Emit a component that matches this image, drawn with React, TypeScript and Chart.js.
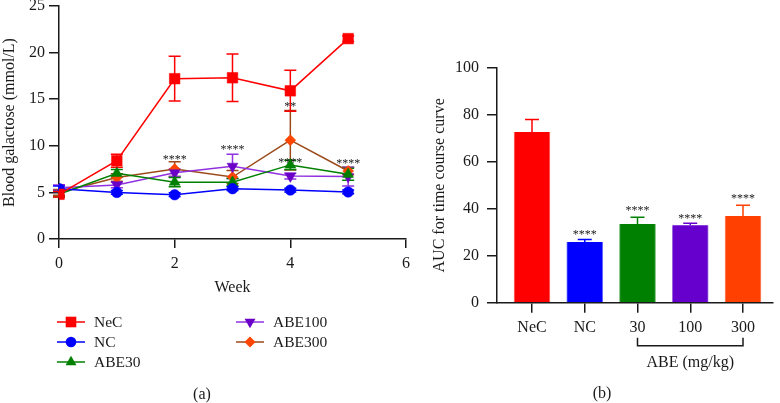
import React, { useEffect, useRef } from 'react';
import { Chart, registerables } from 'chart.js';

Chart.register(...registerables);

const FONT = '"Liberation Serif", "DejaVu Serif", "Times New Roman", serif';
const INK = '#1a1a1a';

// ---------- Panel (a): blood galactose over weeks ----------
const weeks = [0, 1, 2, 3, 4, 5];
const xTickValues = [0, 2, 4, 6];

const necMean = [4.8, 8.4, 17.2, 17.3, 15.9, 21.5];
const necSd = [0.3, 0.7, 2.4, 2.55, 2.2, 0.3];
const ncMean = [5.4, 5.0, 4.75, 5.4, 5.25, 5.05];
const ncSd = [0.3, 0.2, 0.2, 0.2, 0.2, 0.2];
const abe30Mean = [4.8, 7.05, 6.1, 6.1, 7.95, 6.95];
const abe30Sd = [0.3, 0.4, 0.5, 0.4, 0.5, 0.65];
const abe100Mean = [5.5, 5.8, 7.1, 7.8, 6.75, 6.7];
const abe100Sd = [0.3, 0.3, 0.4, 1.3, 0.3, 1.0];
const abe300Mean = [5.0, 6.6, 7.5, 6.65, 10.6, 7.3];
const abe300Sd = [0.3, 0.4, 0.8, 0.7, 3.2, 0.4];

const sigWeeks = [2, 3, 4, 4, 5];
const sigText = ['****', '****', '**', '****', '****'];
const sigLevel = [8.8, 9.8, 14.4, 8.4, 8.3];

// ---------- Panel (b): AUC ----------
const aucCategories = ['NeC', 'NC', '30', '100', '300'];
const aucMean = [72.7, 25.9, 33.5, 33.0, 36.9];
const aucErr = [5.4, 1.0, 2.9, 0.8, 4.6];
const aucSig = ['', '****', '****', '****', '****'];
const aucSigLevel = [0, 30.1, 40.2, 37.0, 45.5];

type Series = {
  name: string;
  mean: number[];
  sd: number[];
  line: string;
  fill: string;
  shape: string;
  radius: number;
  rotation: number;
};

const series: Series[] = [
  { name: 'NeC', mean: necMean, sd: necSd, line: '#ff0000', fill: '#ff0000', shape: 'rect', radius: 7.5, rotation: 0 },
  { name: 'NC', mean: ncMean, sd: ncSd, line: '#0000ff', fill: '#0000ff', shape: 'circle', radius: 5.3, rotation: 0 },
  { name: 'ABE30', mean: abe30Mean, sd: abe30Sd, line: '#008000', fill: '#008000', shape: 'triangle', radius: 6.3, rotation: 0 },
  { name: 'ABE100', mean: abe100Mean, sd: abe100Sd, line: '#9030e0', fill: '#6a00c8', shape: 'triangle', radius: 6.3, rotation: 180 },
  { name: 'ABE300', mean: abe300Mean, sd: abe300Sd, line: '#9c4a1a', fill: '#ff4500', shape: 'rectRot', radius: 5.5, rotation: 0 },
];

const barFill = ['#ff0000', '#0000ff', '#008000', '#6600cc', '#ff4000'];
const barEdge = ['#ff8080', '#7070ff', '#60b060', '#a070e0', '#ff9070'];

function markerPath(ctx: CanvasRenderingContext2D, shape: string, x: number, y: number, r: number, rot: number) {
  ctx.beginPath();
  if (shape === 'rect') {
    const s = r * Math.SQRT1_2;
    ctx.rect(x - s, y - s, 2 * s, 2 * s);
  } else if (shape === 'circle') {
    ctx.arc(x, y, r, 0, Math.PI * 2);
  } else if (shape === 'triangle') {
    let a = (rot * Math.PI) / 180;
    ctx.moveTo(x + Math.sin(a) * r, y - Math.cos(a) * r);
    a += (2 * Math.PI) / 3;
    ctx.lineTo(x + Math.sin(a) * r, y - Math.cos(a) * r);
    a += (2 * Math.PI) / 3;
    ctx.lineTo(x + Math.sin(a) * r, y - Math.cos(a) * r);
    ctx.closePath();
  } else {
    ctx.moveTo(x - r, y);
    ctx.lineTo(x, y - r);
    ctx.lineTo(x + r, y);
    ctx.lineTo(x, y + r);
    ctx.closePath();
  }
}

function LineChart() {
  const ref = useRef<HTMLCanvasElement | null>(null);
  useEffect(() => {
    if (!ref.current) return;
    const OFF = 20; // canvas is shifted up by 20px

    const errPlugin = {
      id: 'errLeft',
      beforeDatasetsDraw(chart: any) {
        const { ctx, scales } = chart;
        const x = scales.x;
        const y = scales.y;
        ctx.save();
        ctx.lineWidth = 1.5;
        for (let d = chart.data.datasets.length - 1; d >= 0; d--) {
          const ds: any = chart.data.datasets[d];
          ctx.strokeStyle = ds.borderColor;
          ds.data.forEach((p: any, i: number) => {
            const sd = ds.sd[i];
            const px = x.getPixelForValue(p.x);
            const top = y.getPixelForValue(p.y + sd);
            const bot = y.getPixelForValue(p.y - sd);
            ctx.beginPath();
            ctx.moveTo(px, top);
            ctx.lineTo(px, bot);
            ctx.moveTo(px - 6, top);
            ctx.lineTo(px + 6, top);
            ctx.moveTo(px - 6, bot);
            ctx.lineTo(px + 6, bot);
            ctx.stroke();
          });
        }
        ctx.restore();
      },
      afterDatasetsDraw(chart: any) {
        const { ctx, scales } = chart;
        ctx.save();
        ctx.fillStyle = INK;
        ctx.font = `12px ${FONT}`;
        ctx.textAlign = 'center';
        ctx.textBaseline = 'middle';
        sigWeeks.forEach((w, i) => {
          ctx.fillText(sigText[i], scales.x.getPixelForValue(w), scales.y.getPixelForValue(sigLevel[i]) + 2.5);
        });
        ctx.restore();
      },
      afterDraw(chart: any) {
        const { ctx } = chart;
        ctx.save();
        ctx.font = `15.5px ${FONT}`;
        ctx.textBaseline = 'middle';
        ctx.textAlign = 'left';
        chart.data.datasets.forEach((ds: any, i: number) => {
          const col = i < 3 ? 0 : 1;
          const row = i < 3 ? i : i - 3;
          const x0 = 57 + col * 179;
          const yy = 322 + row * 20 + OFF;
          ctx.strokeStyle = ds.borderColor;
          ctx.lineWidth = 1.5;
          ctx.beginPath();
          ctx.moveTo(x0, yy);
          ctx.lineTo(x0 + 28, yy);
          ctx.stroke();
          ctx.fillStyle = ds.pointBackgroundColor;
          markerPath(ctx, ds.pointStyle, x0 + 14, yy, ds.pointRadius, ds.pointRotation);
          ctx.fill();
          ctx.fillStyle = INK;
          ctx.fillText(ds.label, x0 + 37, yy + 1);
        });
        ctx.font = `16px ${FONT}`;
        ctx.textAlign = 'center';
        ctx.fillText('(a)', 202, 395 + OFF);
        ctx.restore();
      },
    };

    const chart = new Chart(ref.current, {
      type: 'line',
      data: {
        datasets: series.map((s) => ({
          label: s.name,
          data: weeks.map((w, i) => ({ x: w, y: s.mean[i] })),
          borderColor: s.line,
          backgroundColor: s.fill,
          pointBackgroundColor: s.fill,
          pointBorderColor: s.fill,
          pointBorderWidth: 0.5,
          pointStyle: s.shape,
          pointRadius: s.radius,
          pointRotation: s.rotation,
          borderWidth: 1.5,
          tension: 0,
          sd: s.sd,
        })) as any,
      },
      options: {
        animation: false,
        responsive: false,
        devicePixelRatio: 1,
        layout: { padding: { left: 0, top: 26, right: 14, bottom: 103 } },
        plugins: { legend: { display: false }, tooltip: { enabled: false } },
        scales: {
          x: {
            type: 'linear',
            min: 0,
            max: 6,
            afterBuildTicks: (scale: any) => {
              scale.ticks = xTickValues.map((v) => ({ value: v }));
            },
            afterFit: (scale: any) => {
              scale.height = 61;
            },
            ticks: { font: { size: 16 }, color: INK, padding: 6, autoSkip: false, maxRotation: 0 },
            grid: { display: true, drawOnChartArea: false, drawTicks: true, tickLength: 9, color: INK, lineWidth: 1.5 },
            border: { display: true, color: INK, width: 1.5 },
            title: { display: true, text: 'Week', font: { size: 16 }, color: INK, padding: { top: 0, bottom: 3 } },
          },
          y: {
            type: 'linear',
            min: 0,
            max: 25,
            ticks: { stepSize: 5, font: { size: 16 }, color: INK, padding: 4 },
            afterFit: (scale: any) => {
              scale.width = 59;
            },
            grid: { display: true, drawOnChartArea: false, drawTicks: true, tickLength: 10, color: INK, lineWidth: 1.5 },
            border: { display: true, color: INK, width: 1.5 },
            title: { display: true, text: 'Blood galactose (mmol/L)', font: { size: 16 }, color: INK, padding: { top: 0, bottom: 0 } },
          },
        },
      },
      plugins: [errPlugin],
    } as any);
    return () => chart.destroy();
  }, []);
  return (
    <canvas
      ref={ref}
      width={420}
      height={423}
      style={{ position: 'absolute', left: 0, top: -20, width: 420, height: 423 }}
    />
  );
}

function BarChart() {
  const ref = useRef<HTMLCanvasElement | null>(null);
  useEffect(() => {
    if (!ref.current) return;
    const OFF = 20;
    const CX = 420;

    const barPlugin = {
      id: 'barExtras',
      afterDatasetsDraw(chart: any) {
        const { ctx, scales } = chart;
        const x = scales.x;
        const y = scales.y;
        ctx.save();
        ctx.lineWidth = 1.5;
        aucMean.forEach((m, i) => {
          const px = x.getPixelForValue(i);
          const top = y.getPixelForValue(m + aucErr[i]);
          const base = y.getPixelForValue(m);
          ctx.strokeStyle = barFill[i];
          ctx.beginPath();
          ctx.moveTo(px, base);
          ctx.lineTo(px, top);
          ctx.moveTo(px - 7, top);
          ctx.lineTo(px + 7, top);
          ctx.stroke();
        });
        ctx.fillStyle = INK;
        ctx.font = `12px ${FONT}`;
        ctx.textAlign = 'center';
        ctx.textBaseline = 'middle';
        aucSig.forEach((t, i) => {
          if (!t) return;
          ctx.fillText(t, x.getPixelForValue(i), y.getPixelForValue(aucSigLevel[i]) + 2.5);
        });
        ctx.restore();
      },
      afterDraw(chart: any) {
        const { ctx, scales } = chart;
        const x = scales.x;
        const x1 = x.getPixelForValue(2);
        const x2 = x.getPixelForValue(4);
        const by = 345.7 + OFF;
        ctx.save();
        ctx.strokeStyle = INK;
        ctx.lineWidth = 1.5;
        ctx.beginPath();
        ctx.moveTo(x1, by - 8);
        ctx.lineTo(x1, by);
        ctx.lineTo(x2, by);
        ctx.lineTo(x2, by - 8);
        ctx.stroke();
        ctx.fillStyle = INK;
        ctx.font = `16px ${FONT}`;
        ctx.textAlign = 'center';
        ctx.textBaseline = 'middle';
        ctx.fillText('ABE (mg/kg)', (x1 + x2) / 2, 363 + OFF);
        ctx.fillText('(b)', 602 - CX, 394 + OFF);
        ctx.restore();
      },
    };

    const chart = new Chart(ref.current, {
      type: 'bar',
      data: {
        datasets: [
          {
            label: 'AUC',
            data: aucMean.map((v, i) => ({ x: i, y: v })),
            backgroundColor: barFill,
            borderColor: barEdge,
            borderWidth: { left: 1, right: 1, top: 0, bottom: 0 },
            barThickness: 36,
          },
        ],
      },
      options: {
        animation: false,
        responsive: false,
        devicePixelRatio: 1,
        layout: { padding: { left: 0, top: 88, right: 7, bottom: 60.3 } },
        plugins: { legend: { display: false }, tooltip: { enabled: false } },
        scales: {
          x: {
            type: 'linear',
            offset: false,
            min: -0.6635,
            max: 4.5687,
            afterBuildTicks: (scale: any) => {
              scale.ticks = aucCategories.map((_, i) => ({ value: i }));
            },
            afterFit: (scale: any) => {
              scale.height = 40;
            },
            ticks: {
              callback: (v: any) => aucCategories[v] ?? '',
              font: { size: 16 },
              color: INK,
              padding: 5,
              autoSkip: false,
              maxRotation: 0,
            },
            grid: { display: true, offset: false, drawOnChartArea: false, drawTicks: true, tickLength: 10, color: INK, lineWidth: 1.5 },
            border: { display: true, color: INK, width: 1.5 },
          },
          y: {
            type: 'linear',
            min: 0,
            max: 100,
            ticks: { stepSize: 20, font: { size: 16 }, color: INK, padding: 8 },
            afterFit: (scale: any) => {
              scale.width = 77;
            },
            grid: { display: true, drawOnChartArea: false, drawTicks: true, tickLength: 10, color: INK, lineWidth: 1.5 },
            border: { display: true, color: INK, width: 1.5 },
            title: { display: true, text: 'AUC for time course curve', font: { size: 16 }, color: INK, padding: { top: 10, bottom: 0 } },
          },
        },
      },
      plugins: [barPlugin],
    } as any);
    return () => chart.destroy();
  }, []);
  return (
    <canvas
      ref={ref}
      width={360}
      height={423}
      style={{ position: 'absolute', left: 420, top: -20, width: 360, height: 423 }}
    />
  );
}

Chart.defaults.font.family = FONT;
Chart.defaults.color = INK;

export default function App() {
  return (
    <div
      style={{
        position: 'fixed',
        left: 0,
        top: 0,
        width: 780,
        height: 403,
        overflow: 'hidden',
        background: '#ffffff',
      }}
    >
      <LineChart />
      <BarChart />
    </div>
  );
}
